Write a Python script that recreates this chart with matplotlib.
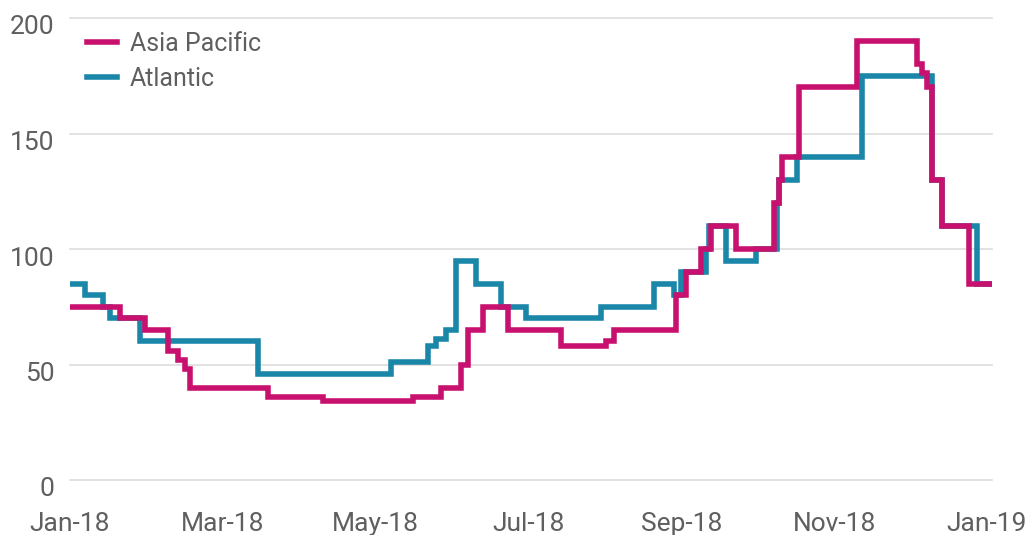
import pandas as pd
import matplotlib.pyplot as plt
import matplotlib.dates as mdates
from matplotlib.transforms import ScaledTranslation

# step change dates and levels
asia_dates = ['2018-01-01', '2018-01-21', '2018-01-31', '2018-02-09', '2018-02-13',
              '2018-02-16', '2018-02-18', '2018-03-21', '2018-04-12', '2018-05-18',
              '2018-05-29', '2018-06-06', '2018-06-09', '2018-06-15', '2018-06-25',
              '2018-07-16', '2018-08-03', '2018-08-06', '2018-08-31', '2018-09-04',
              '2018-09-10', '2018-09-14', '2018-09-24', '2018-10-09', '2018-10-11',
              '2018-10-12', '2018-10-19', '2018-11-11', '2018-12-05', '2018-12-07',
              '2018-12-09', '2018-12-11', '2018-12-15', '2018-12-26', '2019-01-04']
asia_values = [75, 70, 65, 56, 52,
               48, 40, 36, 34, 36,
               40, 50, 65, 75, 65,
               58, 60, 65, 80, 90,
               100, 110, 100, 120, 130,
               140, 170, 190, 180, 176,
               170, 130, 110, 85, 85]

atlantic_dates = ['2018-01-01', '2018-01-07', '2018-01-14', '2018-01-17', '2018-01-29',
                  '2018-03-17', '2018-05-09', '2018-05-24', '2018-05-27', '2018-05-31',
                  '2018-06-04', '2018-06-12', '2018-06-22', '2018-07-02', '2018-08-01',
                  '2018-08-22', '2018-08-30', '2018-09-02', '2018-09-12', '2018-09-13',
                  '2018-09-20', '2018-10-02', '2018-10-10', '2018-10-11', '2018-10-18',
                  '2018-11-13', '2018-12-11', '2018-12-15', '2018-12-29', '2019-01-04']
atlantic_values = [85, 80, 75, 70, 60,
                   46, 51, 58, 61, 65,
                   95, 85, 75, 70, 75,
                   85, 80, 90, 100, 110,
                   95, 100, 120, 130, 140,
                   175, 130, 110, 85, 85]

y_ticks = [0, 50, 100, 150, 200]

pink = '#c8106e'
blue = '#1a86a8'
grey_text = '#5f5f5f'

plt.rcParams['font.family'] = ['Roboto', 'DejaVu Sans']

fig = plt.figure(figsize=(10.31, 5.35), dpi=100)
ax = fig.add_axes([70 / 1031, 1 - 480 / 535, 922 / 1031, 462 / 535])

ax.plot(pd.to_datetime(atlantic_dates), atlantic_values, drawstyle='steps-post',
        color=blue, lw=4, label='Atlantic', zorder=2, solid_joinstyle='miter')
ax.plot(pd.to_datetime(asia_dates), asia_values, drawstyle='steps-post',
        color=pink, lw=4, label='Asia Pacific', zorder=3, solid_joinstyle='miter')

ax.set_xlim(pd.Timestamp('2018-01-01'), pd.Timestamp('2019-01-04'))
ax.set_ylim(0, 200)
ax.set_yticks(y_ticks)

# labels every 61 days, like the source's category axis
tick_dates = pd.date_range('2018-01-01', periods=7, freq='61D')
ax.set_xticks(tick_dates)
ax.xaxis.set_major_formatter(mdates.DateFormatter('%b-%y'))

ax.grid(axis='y', color='#dddddd', lw=1.2)
for gl in ax.get_ygridlines():
    gl.set_clip_on(False)
ax.set_axisbelow(True)
for s in ax.spines.values():
    s.set_visible(False)
ax.tick_params(axis='both', length=0, labelsize=19, labelcolor=grey_text)
ax.tick_params(axis='y', pad=11)
ax.tick_params(axis='x', pad=23)

# y labels sit a little below their gridlines
for lbl in ax.get_yticklabels():
    lbl.set_transform(lbl.get_transform() + ScaledTranslation(0, -7 / 100, fig.dpi_scale_trans))

handles, labels = ax.get_legend_handles_labels()
leg = ax.legend(handles[::-1], labels[::-1], loc='upper left', frameon=False,
                bbox_to_anchor=(17 / 922, 1 - 14 / 462), borderpad=0, borderaxespad=0,
                handlelength=1.2, handletextpad=0.5, labelspacing=0.42, fontsize=18)
for t in leg.get_texts():
    t.set_color(grey_text)

fig.savefig('out.png', dpi=100)
